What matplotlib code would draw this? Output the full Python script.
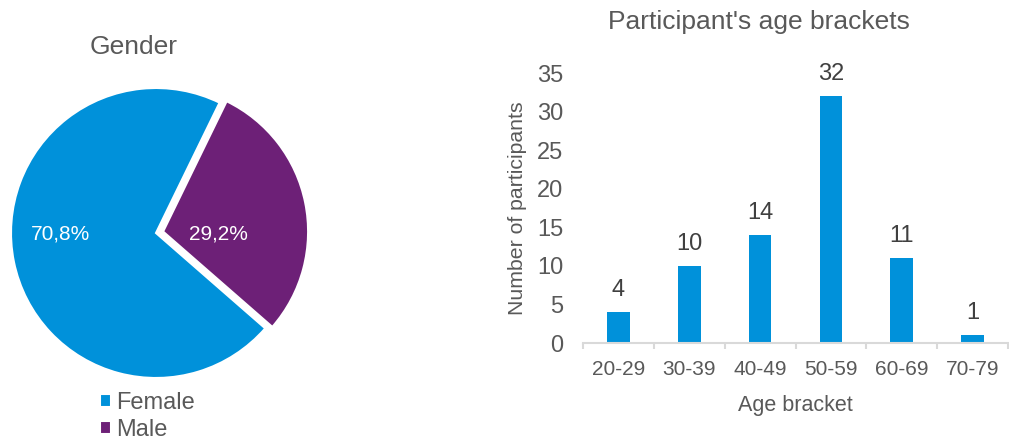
import matplotlib
matplotlib.use("Agg")
import matplotlib.pyplot as plt
import numpy as np

# ---- data ----
gender_labels = ["Female", "Male"]
gender_pct = [70.8, 29.2]
age_brackets = ["20-29", "30-39", "40-49", "50-59", "60-69", "70-79"]
age_counts = [4, 10, 14, 32, 11, 1]

# ---- style ----
BLUE = "#0091DA"
PURPLE = "#6D2077"
GRAY = "#595959"
AXIS = "#D9D9D9"
plt.rcParams["font.family"] = ["Liberation Sans", "DejaVu Sans"]

W, H = 1009, 442
fig = plt.figure(figsize=(W / 100, H / 100), dpi=100)


def fx(px):
    return px / W


def fy(py):
    return 1 - py / H


# ---- pie ----
cx, cy, R = 156, 233, 145  # pixel center/radius
ax_l, ax_r, ax_t, ax_b = 0, 330, 70, 395
ax_pie = fig.add_axes([fx(ax_l), fy(ax_b), fx(ax_r - ax_l), (ax_b - ax_t) / H])
wedges, _ = ax_pie.pie(
    gender_pct,
    colors=[BLUE, PURPLE],
    startangle=64,
    counterclock=True,
    explode=[0, 0.05],
    wedgeprops=dict(edgecolor="white", linewidth=1.5),
)
ax_pie.set_aspect("auto")
ax_pie.set_xlim((ax_l - cx) / R, (ax_r - cx) / R)
ax_pie.set_ylim((cy - ax_b) / R, (cy - ax_t) / R)
ax_pie.axis("off")

label_pos = [(-0.66, -0.01), (0.43, -0.01)]
for pct, (x, y) in zip(gender_pct, label_pos):
    ax_pie.text(x, y, f"{pct:.1f}%".replace(".", ","), color="white",
                fontsize=15, ha="center", va="center")

fig.text(fx(134), fy(47), "Gender", fontsize=19, color=GRAY, ha="center", va="center")

leg = fig.legend(wedges, gender_labels, loc="upper left",
                 bbox_to_anchor=(fx(100), fy(392)), frameon=False,
                 fontsize=17, handlelength=0.45, handleheight=0.45,
                 handletextpad=0.25, labelspacing=0.22, borderpad=0, borderaxespad=0)
for t in leg.get_texts():
    t.set_color(GRAY)

# ---- bar chart ----
bl, br, bt, bb = 583, 1008, 73, 343
ax = fig.add_axes([fx(bl), fy(bb), fx(br - bl), (bb - bt) / H])
x = np.arange(len(age_brackets))
bars = ax.bar(x, age_counts, width=0.32, color=BLUE)
ax.set_xlim(-0.5, len(age_brackets) - 0.5)
ax.set_ylim(0, 35)
ax.set_yticks(np.arange(0, 36, 5))
ax.set_xticks(x)
ax.set_xticklabels(age_brackets)
ax.set_xticks(np.arange(-0.5, len(age_brackets), 1.0), minor=True)
for s in ["top", "right", "left"]:
    ax.spines[s].set_visible(False)
ax.spines["bottom"].set_color(AXIS)
ax.spines["bottom"].set_linewidth(1.5)
ax.tick_params(axis="x", which="major", length=0, labelsize=15, labelcolor=GRAY, pad=12)
ax.tick_params(axis="x", which="minor", length=4, width=1.5, color=AXIS, direction="out")
ax.tick_params(axis="y", length=0, labelsize=17, labelcolor=GRAY, pad=14)
labs = ax.bar_label(bars, padding=8, fontsize=17, color="#404040")
for t in labs:
    t.set_clip_on(False)
ax.set_ylabel("Number of participants", fontsize=15.3, color=GRAY)
ax.yaxis.set_label_coords((527 - bl) / (br - bl), 0.5)
ax.set_xlabel("Age bracket", fontsize=15.5, color=GRAY, labelpad=12)

fig.text(fx(759), fy(22), "Participant's age brackets", fontsize=19, color=GRAY,
         ha="center", va="center")

fig.savefig("out.png", dpi=100)
